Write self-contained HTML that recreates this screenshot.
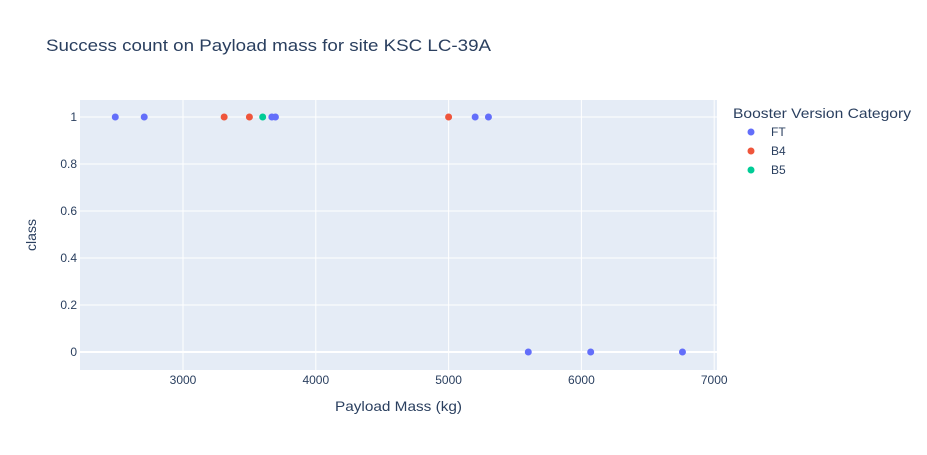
<!DOCTYPE html>
<html><head><meta charset="utf-8"><style>
body{margin:0;background:#fff;font-family:"Liberation Sans",Arial,sans-serif}
svg text{font-family:"Liberation Sans",Arial,sans-serif}
</style></head><body>
<svg id="chart" width="927" height="450">
<rect width="927" height="450" fill="#fff"/>
<text x="46" y="51" font-size="17" fill="#2a3f5f" textLength="445" lengthAdjust="spacingAndGlyphs">Success count on Payload mass for site KSC LC-39A</text>
<rect x="80" y="100" width="637" height="270" fill="#e5ecf6"/>
<g id="grid"></g>
<g id="points"></g>
<text x="335" y="411" font-size="14" fill="#2a3f5f" textLength="127" lengthAdjust="spacingAndGlyphs">Payload Mass (kg)</text>
<text x="36" y="235" font-size="14" fill="#2a3f5f" text-anchor="middle" transform="rotate(-90 36 235)">class</text>
<g>
<text x="733" y="118" font-size="14" fill="#2a3f5f" textLength="178" lengthAdjust="spacingAndGlyphs">Booster Version Category</text>
<g id="legend"></g>
</g>
</svg>
<script>
const xTicks=[3000,4000,5000,6000,7000];
const yTicks=[0,0.2,0.4,0.6,0.8,1];
const ftMass=[2490,2708,3669,3696,5200,5300,5600,6070,6761];
const ftClass=[1,1,1,1,1,1,0,0,0];
const b4Mass=[3310,3500,5000];
const b4Class=[1,1,1];
const b5Mass=[3600];
const b5Class=[1];
const series=[["FT","#636efa",ftMass,ftClass],["B4","#ef553b",b4Mass,b4Class],["B5","#00cc96",b5Mass,b5Class]];
const X=v=>183+(v-3000)*0.1328;
const Y=v=>352-v*235;
const NS="http://www.w3.org/2000/svg";
const g=document.getElementById('grid'),p=document.getElementById('points'),lg=document.getElementById('legend');
function mk(tag,attrs,parent){const e=document.createElementNS(NS,tag);for(const k in attrs)e.setAttribute(k,attrs[k]);parent.appendChild(e);return e;}
xTicks.forEach(t=>{
 const l=mk('line',{x1:X(t),x2:X(t),y1:100,y2:370,stroke:'#fff','stroke-width':1},g);
 
 
 const tx=mk('text',{x:X(t),y:384,'font-size':12,fill:'#2a3f5f','text-anchor':'middle'},g);tx.textContent=t;
 
 
});
yTicks.forEach(t=>{
 const l=mk('line',{x1:80,x2:717,y1:Y(t),y2:Y(t),stroke:'#fff','stroke-width':t===0?2:1},g);
 
 
 const tx=mk('text',{x:77,y:Y(t)+4,'font-size':12,fill:'#2a3f5f','text-anchor':'end'},g);tx.textContent=t;
 
 
});
series.forEach((s,i)=>{
 s[2].forEach((m,j)=>{
  const c=mk('circle',{cx:X(m),cy:Y(s[3][j]),r:3.5,fill:s[1]},p);
  
  
 });
 const y=132+i*19;
 const c=mk('circle',{cx:751,cy:y,r:3.5,fill:s[1]},lg);
 
 
 const t=mk('text',{x:771,y:y+4,'font-size':12,fill:'#2a3f5f'},lg);t.textContent=s[0];
 
 
});
</script>
</body></html>
